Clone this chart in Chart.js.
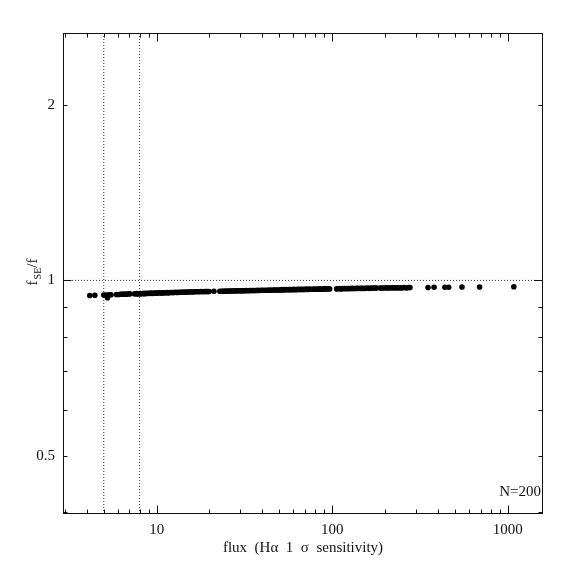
<!DOCTYPE html>
<html>
<head>
<meta charset="utf-8">
<title>f_SE/f vs flux</title>
<script src="https://cdn.jsdelivr.net/npm/chart.js@4.4.1/dist/chart.umd.min.js"></script>
<style>
	html, body { margin: 0; padding: 0; background: #fff; }
	canvas { display: block; }
</style>
</head>
<body>
<canvas id="ratioChart" width="574" height="574"></canvas>
<script>
// flux (Halpha 1 sigma sensitivity) of each object
var fluxValues = [
	4.16, 4.45,
	5.0, 5.15, 5.25, 5.35, 5.5,
	5.9, 6.1, 6.3, 6.5, 6.7, 6.9, 7.05,
	7.5, 7.7, 7.8, 8.0, 8.1, 8.3, 8.5, 8.6, 8.8, 9.0, 9.2, 9.3, 9.5, 9.7, 9.9, 10.1,
	10.3, 10.6, 10.8, 11.0, 11.3, 11.5, 11.7, 12.0, 12.3, 12.5, 12.8, 13.1, 13.3, 13.6,
	13.9, 14.2, 14.5, 14.8, 15.1, 15.4, 15.8, 16.1, 16.5, 16.8, 17.2, 17.5, 17.9, 18.3,
	18.7, 19.1, 19.5, 19.9,
	21.2,
	22.9, 23.4, 23.9, 24.4, 24.9, 25.4, 25.9, 26.5, 27.0, 27.6, 28.2, 28.8, 29.4, 30.0, 30.6,
	31.0, 31.7, 32.4, 33.1, 33.8, 34.5, 35.3, 36.0, 36.8, 37.6, 38.4, 39.3, 40.2,
	41.3, 42.3, 43.2, 44.1, 45.1, 46.1, 47.1, 48.2, 49.2, 50.3, 51.4, 52.5, 53.6,
	55.1, 56.5, 57.8, 59.2, 60.5, 62.0, 63.4, 64.9, 66.4, 68.0, 69.6, 71.2, 72.9, 74.5,
	77.5, 79.5, 81.5, 83.5, 85.5, 87.6, 89.8, 92.0, 94.3, 96.6,
	106, 109, 112, 115, 118, 121, 124, 127, 130, 133, 137, 140, 144, 147, 151, 155,
	159, 163, 167, 171, 175, 179,
	187, 192, 197, 203, 208, 214, 220, 226, 232, 238, 245, 251, 258, 265, 272, 277,
	351, 380, 438, 460, 548, 690, 1081
];

// f_SE / f for the same objects
var ratioValues = [
	0.942, 0.943,
	0.944, 0.944, 0.934, 0.945, 0.945,
	0.946, 0.946, 0.947, 0.947, 0.947, 0.948, 0.948,
	0.948, 0.949, 0.948, 0.949, 0.949, 0.949, 0.950, 0.949, 0.950, 0.950, 0.950, 0.951, 0.950, 0.951, 0.951, 0.951,
	0.952, 0.951, 0.952, 0.952, 0.952, 0.953, 0.952, 0.953, 0.953, 0.953, 0.954, 0.953, 0.954, 0.954,
	0.954, 0.955, 0.954, 0.955, 0.955, 0.955, 0.956, 0.955, 0.956, 0.956, 0.956, 0.956, 0.957, 0.956,
	0.957, 0.957, 0.957, 0.957,
	0.958,
	0.958, 0.958, 0.958, 0.959, 0.958, 0.959, 0.959, 0.959, 0.959, 0.960, 0.959, 0.960, 0.960, 0.960, 0.960,
	0.960, 0.960, 0.961, 0.960, 0.961, 0.961, 0.961, 0.961, 0.961, 0.962, 0.961, 0.962, 0.962,
	0.962, 0.962, 0.962, 0.963, 0.962, 0.963, 0.963, 0.963, 0.963, 0.963, 0.964, 0.963, 0.964,
	0.964, 0.964, 0.964, 0.964, 0.965, 0.964, 0.965, 0.965, 0.965, 0.965, 0.965, 0.966, 0.965, 0.966,
	0.966, 0.966, 0.966, 0.966, 0.967, 0.966, 0.967, 0.967, 0.967, 0.967,
	0.967, 0.968, 0.967, 0.968, 0.968, 0.968, 0.968, 0.968, 0.969, 0.968, 0.969, 0.969, 0.969, 0.969, 0.969, 0.969,
	0.970, 0.969, 0.970, 0.970, 0.970, 0.970,
	0.970, 0.970, 0.970, 0.971, 0.970, 0.971, 0.971, 0.971, 0.971, 0.971, 0.971, 0.971, 0.972, 0.971, 0.972, 0.972,
	0.972, 0.973, 0.973, 0.973, 0.974, 0.974, 0.975
];

// dotted reference lines
var refFluxes = [5, 8];
var refRatio = 1;

// axis ranges and ticks
var fluxMin = 2.93, fluxMax = 1585;
var ratioMin = 0.397, ratioMax = 2.66;
var fluxTickValues = [10, 100, 1000];
var fluxMinorValues = [3, 4, 5, 6, 7, 8, 9, 20, 30, 40, 50, 60, 70, 80, 90, 200, 300, 400, 500, 600, 700, 800, 900];
var ratioTickValues = [0.5, 1, 2];
var ratioMinorValues = [0.4, 0.5, 0.6, 0.7, 0.8, 0.9, 2];
var ratioMajorValues = [1];

var sampleLabel = 'N=200';
var xTitle = 'flux  (H\u03b1  1  \u03c3  sensitivity)';

var SERIF = '"Liberation Serif", "DejaVu Serif", serif';
var INK = '#111';

var points = fluxValues.map(function(f, i) {
	return { x: f, y: ratioValues[i] };
});

var datasets = [{
	type: 'scatter',
	data: points,
	pointRadius: 2.8,
	pointBackgroundColor: '#000',
	pointBorderWidth: 0,
	pointHoverRadius: 2.8
}];

refFluxes.forEach(function(f) {
	datasets.push({
		type: 'line',
		data: [{ x: f, y: ratioMin }, { x: f, y: ratioMax }],
		borderColor: '#333',
		borderWidth: 1,
		borderDash: [1, 2],
		pointRadius: 0,
		fill: false
	});
});

datasets.push({
	type: 'line',
	data: [{ x: fluxMin, y: refRatio }, { x: fluxMax, y: refRatio }],
	borderColor: '#333',
	borderWidth: 1,
	borderDash: [1, 2],
	pointRadius: 0,
	fill: false
});

var framePlugin = {
	id: 'frame',
	afterDraw: function(chart) {
		var ctx = chart.ctx;
		var a = chart.chartArea;
		var xs = chart.scales.x;
		var ys = chart.scales.y;
		var L = Math.round(a.left) + 0.5, R = Math.round(a.right) - 0.5;
		var T = Math.round(a.top) + 0.5, B = Math.round(a.bottom) - 0.5;

		ctx.save();
		ctx.strokeStyle = INK;
		ctx.lineWidth = 1;
		ctx.strokeRect(L, T, R - L, B - T);

		ctx.beginPath();
		function xTick(v, len) {
			var p = Math.round(xs.getPixelForValue(v)) + 0.5;
			ctx.moveTo(p, B); ctx.lineTo(p, B - len);
			ctx.moveTo(p, T); ctx.lineTo(p, T + len);
		}
		function yTick(v, len) {
			var p = Math.round(ys.getPixelForValue(v)) + 0.5;
			ctx.moveTo(L, p); ctx.lineTo(L + len, p);
			ctx.moveTo(R, p); ctx.lineTo(R - len, p);
		}
		fluxMinorValues.forEach(function(v) { xTick(v, 4); });
		fluxTickValues.forEach(function(v) { xTick(v, 8); });
		ratioMinorValues.forEach(function(v) { yTick(v, 4); });
		ratioMajorValues.forEach(function(v) { yTick(v, 8); });
		ctx.stroke();

		ctx.fillStyle = INK;

		// N=200
		ctx.font = '15px ' + SERIF;
		ctx.textAlign = 'right';
		ctx.textBaseline = 'middle';
		ctx.fillText(sampleLabel, a.right - 2, a.bottom - 22);

		// x title
		ctx.textAlign = 'center';
		ctx.fillText(xTitle, (a.left + a.right) / 2, 548);

		// y title: f_SE / f
		ctx.translate(37, 272);
		ctx.rotate(-Math.PI / 2);
		ctx.textBaseline = 'alphabetic';
		ctx.textAlign = 'left';
		ctx.font = '15px ' + SERIF;
		var w1 = ctx.measureText('f').width + 1;
		ctx.font = '10px ' + SERIF;
		var w2 = ctx.measureText('SE').width;
		ctx.font = '15px ' + SERIF;
		var w3 = ctx.measureText('/f').width;
		var x0 = -(w1 + w2 + w3) / 2;
		ctx.fillText('f', x0, 0);
		ctx.font = '10px ' + SERIF;
		ctx.fillText('SE', x0 + w1, 4);
		ctx.font = '15px ' + SERIF;
		ctx.fillText('/f', x0 + w1 + w2, 0);
		ctx.restore();
	}
};

var ratioChart = new Chart(document.getElementById('ratioChart').getContext('2d'), {
	data: { datasets: datasets },
	options: {
		responsive: false,
		animation: false,
		devicePixelRatio: 1,
		layout: { padding: { left: 0, right: 31, top: 33, bottom: 0 } },
		plugins: {
			legend: { display: false },
			tooltip: { enabled: false }
		},
		scales: {
			x: {
				type: 'logarithmic',
				position: 'bottom',
				min: fluxMin,
				max: fluxMax,
				grid: { display: false, drawTicks: false },
				border: { display: false },
				ticks: {
					color: INK,
					font: { family: SERIF, size: 15 },
					padding: 7,
					maxRotation: 0,
					autoSkip: false,
					callback: function(v) { return String(v); }
				},
				afterBuildTicks: function(s) {
					s.ticks = fluxTickValues.map(function(v) { return { value: v }; });
				},
				afterFit: function(s) { s.height = 60; }
			},
			y: {
				type: 'logarithmic',
				position: 'left',
				min: ratioMin,
				max: ratioMax,
				grid: { display: false, drawTicks: false },
				border: { display: false },
				ticks: {
					color: INK,
					font: { family: SERIF, size: 15 },
					padding: 8,
					autoSkip: false,
					callback: function(v) { return String(v); }
				},
				afterBuildTicks: function(s) {
					s.ticks = ratioTickValues.map(function(v) { return { value: v }; });
				},
				afterFit: function(s) { s.width = 63; }
			}
		}
	},
	plugins: [framePlugin]
});
</script>
</body>
</html>
